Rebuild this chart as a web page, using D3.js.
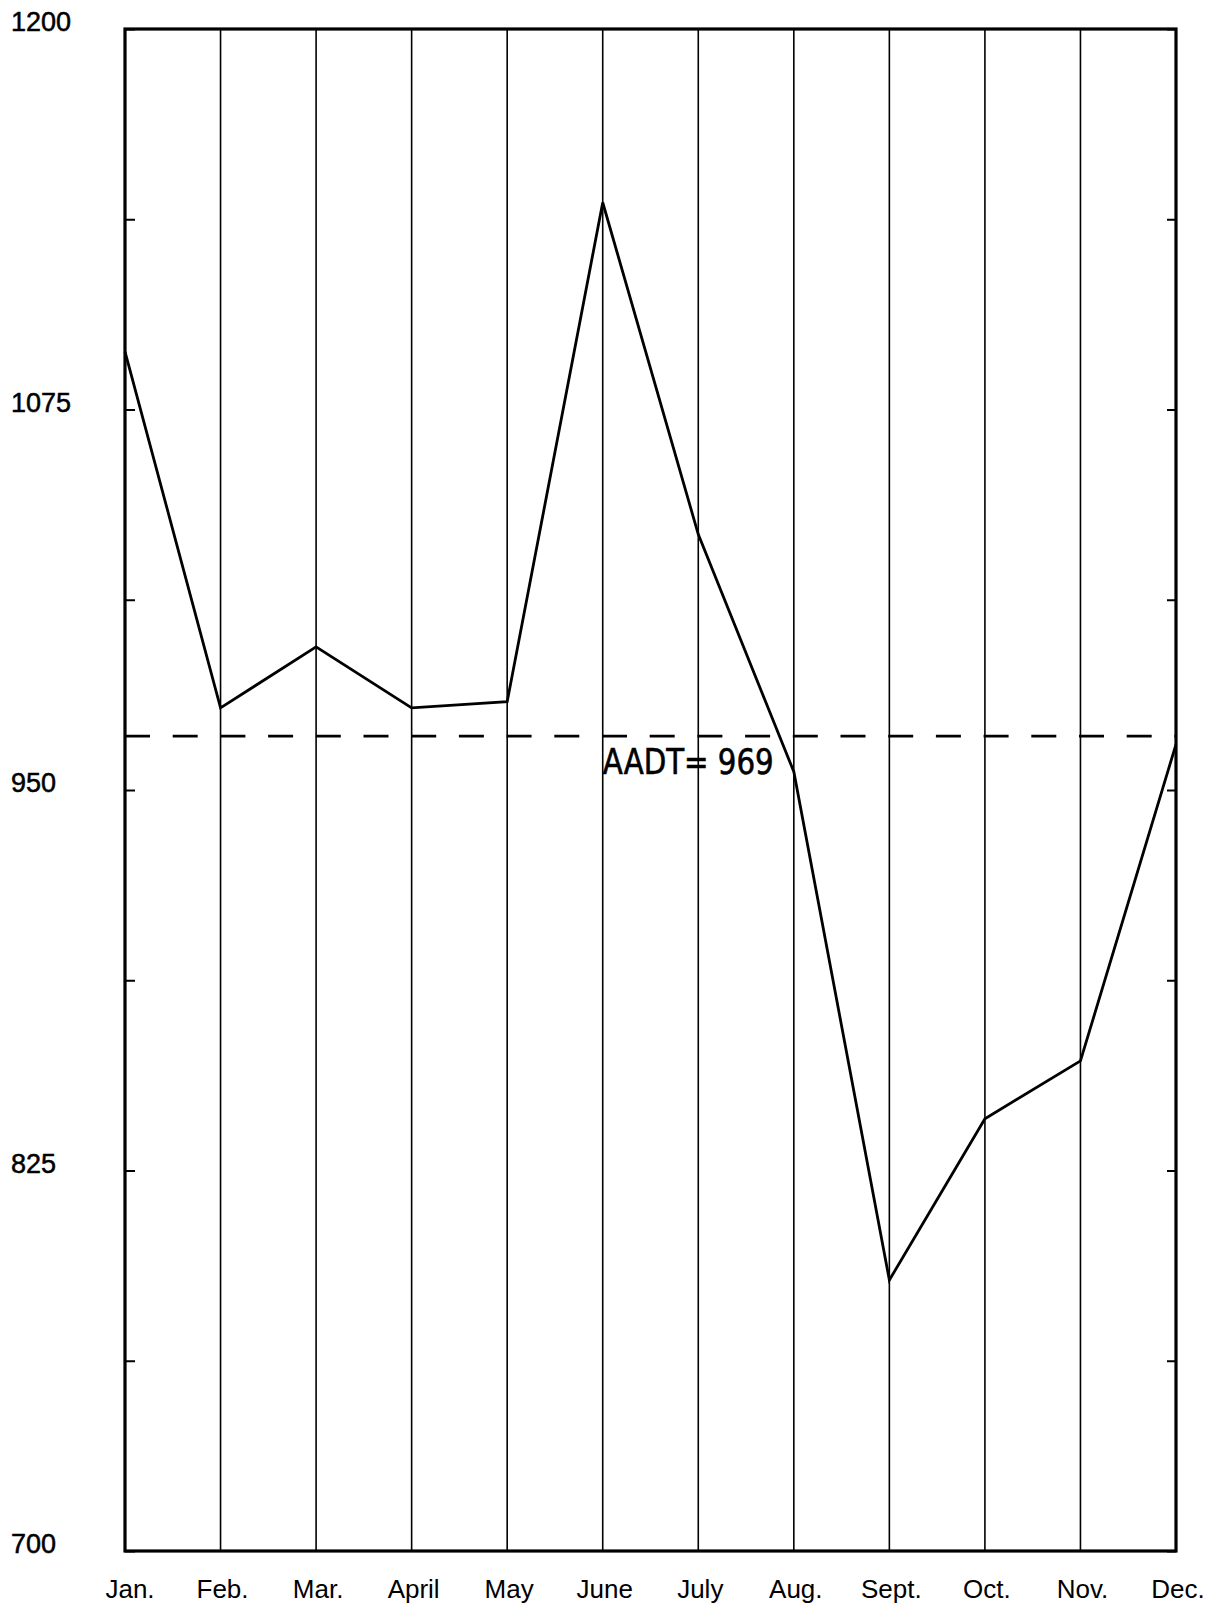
<!DOCTYPE html>
<html>
<head>
<meta charset="utf-8">
<script src="https://cdn.jsdelivr.net/npm/d3@7"></script>
<style>
  html, body { margin: 0; padding: 0; background: #fff; }
  svg { display: block; }
</style>
</head>
<body>
<svg id="chart" width="1211" height="1609"></svg>
<script>
const months = ["Jan.", "Feb.", "Mar.", "April", "May", "June", "July", "Aug.", "Sept.", "Oct.", "Nov.", "Dec."];
const traffic = [1094, 977, 997, 977, 979, 1143, 1034, 956, 789, 842, 861, 965];
const aadt = 969;
const yTickLabels = [700, 825, 950, 1075, 1200];
const yTickValues = [700, 762.5, 825, 887.5, 950, 1012.5, 1075, 1137.5, 1200];

(function () {
const svg = d3.select("#chart");
const mLeft = 125, mRight = 1176, mTop = 29, mBottom = 1551;

const x = d3.scalePoint().domain(months).range([mLeft, mRight]);
const y = d3.scaleLinear().domain([700, 1200]).range([mBottom, mTop]);

// vertical grid lines at each month
svg.append("g").selectAll("line")
  .data(months.slice(1, -1))
  .join("line")
  .attr("x1", d => x(d)).attr("x2", d => x(d))
  .attr("y1", mTop).attr("y2", mBottom)
  .attr("stroke", "#000").attr("stroke-width", 1.6);

// left axis ticks (inward)
const yAxisL = d3.axisLeft(y).tickValues(yTickValues).tickSize(-10).tickFormat("");
const gL = svg.append("g").attr("transform", `translate(${mLeft},0)`).call(yAxisL);
gL.select(".domain").remove();
gL.selectAll(".tick line").attr("stroke", "#000").attr("stroke-width", 2);

// right axis ticks (inward)
const yAxisR = d3.axisRight(y).tickValues(yTickValues).tickSize(-9).tickFormat("");
const gR = svg.append("g").attr("transform", `translate(${mRight},0)`).call(yAxisR);
gR.select(".domain").remove();
gR.selectAll(".tick line").attr("stroke", "#000").attr("stroke-width", 2);

// frame
svg.append("rect")
  .attr("x", mLeft).attr("y", mTop)
  .attr("width", mRight - mLeft).attr("height", mBottom - mTop)
  .attr("fill", "none").attr("stroke", "#000").attr("stroke-width", 3.2);

// y labels
svg.append("g").selectAll("text")
  .data(yTickLabels)
  .join("text")
  .attr("x", 11)
  .attr("y", d => y(d) + 2)
  .attr("font-family", "Liberation Sans, Arial, sans-serif")
  .attr("font-size", 27)
  .attr("fill", "#000")
  .attr("stroke", "#000").attr("stroke-width", 0.5)
  .text(d => d);

// x labels
svg.append("g").selectAll("text")
  .data(months)
  .join("text")
  .attr("x", (d, i) => x(d) + (i === 0 ? 5 : 2))
  .attr("y", 1598)
  .attr("text-anchor", "middle")
  .attr("font-family", "Liberation Sans, Arial, sans-serif")
  .attr("font-size", 26)
  .attr("fill", "#000")
  .text(d => d);

// AADT dashed line
svg.append("line")
  .attr("x1", mLeft).attr("x2", mRight)
  .attr("y1", y(aadt) + 4).attr("y2", y(aadt) + 4)
  .attr("stroke", "#000").attr("stroke-width", 2.6)
  .attr("stroke-dasharray", "25,22.7");

svg.append("text")
  .attr("x", x("June"))
  .attr("y", y(aadt) + 42)
  .attr("font-family", "Liberation Sans Narrow, DejaVu Sans Condensed, sans-serif")
  .attr("font-size", 35)
  .attr("textLength", 171)
  .attr("lengthAdjust", "spacingAndGlyphs")
  .attr("fill", "#000")
  .attr("stroke", "#000").attr("stroke-width", 0.6)
  .text("AADT= " + aadt);

// data line
const line = d3.line()
  .x((d, i) => x(months[i]))
  .y(d => y(d));

svg.append("path")
  .datum(traffic)
  .attr("d", line)
  .attr("fill", "none")
  .attr("stroke", "#000")
  .attr("stroke-width", 2.8)
  .attr("stroke-linejoin", "miter");
})();
</script>
</body>
</html>
